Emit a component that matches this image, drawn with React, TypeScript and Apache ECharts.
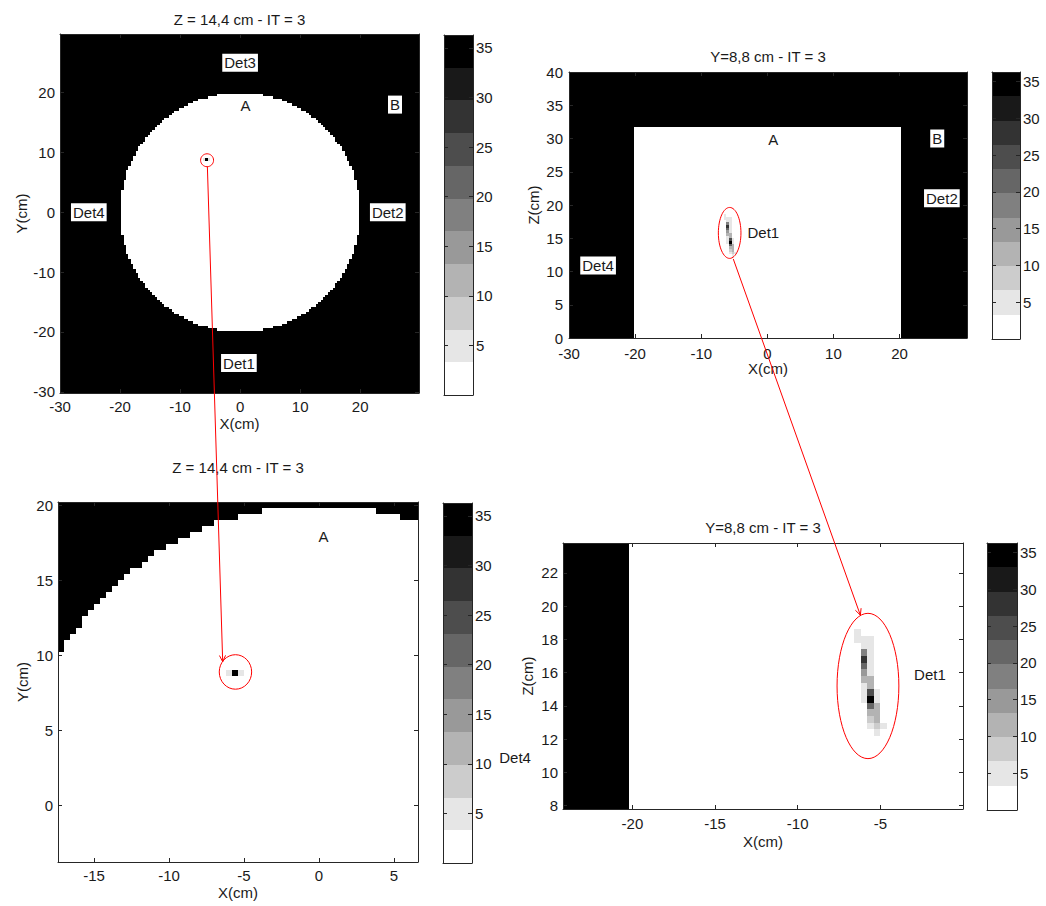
import React, { useEffect, useRef } from "react";
import * as echarts from "echarts";

// ---- Reconstruction parameters -------------------------------------------
const VOXEL = 0.4; // cm
const C_MIN = 0;
const C_MAX = 36.3;
const N_LEVELS = 11;
const colorbarTicks = [5, 10, 15, 20, 25, 30, 35];

const VALUE_A = 0; // phantom interior (A)
const VALUE_B = 36.3; // surrounding medium (B)

// Z = 14,4 cm slice: half-width of the phantom section, in voxels from the
// central column, for row |k| (y = k * 0.4 cm)
const diskHalfWidth = [
  49, 49, 49, 49, 49, 49, 49, 49, 49, 49,
  48, 48, 48, 48, 47, 47, 47, 47, 46, 46,
  45, 45, 44, 44, 43, 43, 42, 42, 41, 40,
  39, 39, 38, 37, 36, 35, 34, 33, 32, 31,
  29, 28, 27, 25, 23, 21, 19, 17, 13, 9,
];

// Hot-spot voxels in the Z = 14,4 cm slice: [x, y, value]
const hotspotXY = [
  [-6.0, 8.8, 5],
  [-5.6, 8.8, 36.3],
  [-5.2, 8.8, 5],
];

// Y = 8,8 cm slice: phantom section [xMin, xMax, zMin, zMax]
const phantomXZ = [-20.2, 20.2, 0, 31.8];

// Hot-spot voxels in the Y = 8,8 cm slice: [x, z, value]
const hotspotXZ = [
  [-6.4, 18.4, 5],
  [-6.4, 18.0, 5], [-6.0, 18.0, 5], [-5.6, 18.0, 5],
  [-6.0, 17.6, 5], [-5.6, 17.6, 5],
  [-6.0, 17.2, 18], [-5.6, 17.2, 5],
  [-6.0, 16.8, 28], [-5.6, 16.8, 5],
  [-6.0, 16.4, 22], [-5.6, 16.4, 5],
  [-6.0, 16.0, 15], [-5.6, 16.0, 5],
  [-6.0, 15.6, 12], [-5.6, 15.6, 12],
  [-6.0, 15.2, 5], [-5.6, 15.2, 12],
  [-6.0, 14.8, 5], [-5.6, 14.8, 25], [-5.2, 14.8, 5],
  [-6.0, 14.4, 5], [-5.6, 14.4, 36.3], [-5.2, 14.4, 5],
  [-5.6, 14.0, 22], [-5.2, 14.0, 12],
  [-5.6, 13.6, 12], [-5.2, 13.6, 12],
  [-5.6, 13.2, 8], [-5.2, 13.2, 12],
  [-5.6, 12.8, 5], [-5.2, 12.8, 8], [-4.8, 12.8, 5],
  [-5.2, 12.4, 5],
];

// Fields of view (cm)
const fovXY_X = [-30, 29.8];
const fovXY_Y = [-30.2, 29.8];
const fovXZ_X = [-30, 30.2];
const fovXZ_Z = [0, 40];
const zoomXY_X = [-17.4, 6.6];
const zoomXY_Y = [-3.8, 20.2];
const zoomXZ_X = [-24.2, 0];
const zoomXZ_Z = [7.8, 23.8];

// Tick labels
const ticksXY = [-30, -20, -10, 0, 10, 20];
const ticksXZ_X = [-30, -20, -10, 0, 10, 20];
const ticksXZ_Z = [0, 5, 10, 15, 20, 25, 30, 35, 40];
const ticksZoomXY_X = [-15, -10, -5, 0, 5];
const ticksZoomXY_Y = [0, 5, 10, 15, 20];
const ticksZoomXZ_X = [-20, -15, -10, -5];
const ticksZoomXZ_Z = [8, 10, 12, 14, 16, 18, 20, 22];

const titleXY = "Z = 14,4 cm - IT = 3";
const titleXZ = "Y=8,8 cm - IT = 3";

// Detector / region tags: [panel, text, x, y] in the panel's data units (cm)
const tags: [number, string, number, number][] = [
  [0, "Det3", 0, 25],
  [0, "A", 0.9, 17.9],
  [0, "B", 25.8, 18.0],
  [0, "Det4", -25.2, 0],
  [0, "Det2", 24.6, 0],
  [0, "Det1", -0.2, -25.2],
  [1, "A", 0.9, 29.9],
  [1, "B", 25.7, 30.0],
  [1, "Det2", 26.4, 21.0],
  [1, "Det1", -0.6, 15.9],
  [1, "Det4", -25.6, 10.9],
  [2, "A", 0.3, 17.9],
  [3, "Det1", -2.0, 15.9],
  [3, "Det4", -27.1, 10.9],
];

// Red highlight ellipses: [panel, cx, cy, rx, ry] in cm
const highlights: [number, number, number, number, number][] = [
  [0, -5.5, 8.7, 1.08, 1.08],
  [2, -5.57, 8.87, 1.08, 1.15],
  [1, -5.7, 15.8, 1.71, 3.83],
  [3, -5.75, 15.2, 1.87, 4.37],
];

// Red arrows: [fromPanel, x, y, toPanel, x, y] in cm
const arrows: [number, number, number, number, number, number][] = [
  [0, -5.45, 7.62, 2, -6.42, 9.55],
  [1, -5.15, 11.88, 3, -6.21, 19.46],
];

// ---- Styling / layout -----------------------------------------------------
const TEXT = "#1a1a1a";
const AXIS = "#262626";
const RED = "#ff0000";
const FONT = "'Liberation Sans', Arial, Helvetica, sans-serif";
const FS = 15;

type Rect = { left: number; top: number; width: number; height: number };

const panelLayout: {
  grid: Rect;
  cb: Rect;
  xGap: number;
  yGap: number;
  xMargin: number;
  yMargin: number;
  titleDy: number;
}[] = [
  { grid: { left: 60, top: 34, width: 359, height: 359 }, cb: { left: 444, top: 35, width: 29, height: 360 }, xGap: 23, yGap: 31, xMargin: 6, yMargin: 5, titleDy: 15 },
  { grid: { left: 569, top: 72, width: 398, height: 266 }, cb: { left: 992, top: 72, width: 28, height: 267 }, xGap: 23, yGap: 29, xMargin: 8, yMargin: 6, titleDy: 16 },
  { grid: { left: 58, top: 502, width: 360, height: 360 }, cb: { left: 443, top: 503, width: 29, height: 360 }, xGap: 23, yGap: 29, xMargin: 6, yMargin: 5, titleDy: 35 },
  { grid: { left: 563, top: 543, width: 400, height: 266 }, cb: { left: 987, top: 543, width: 30, height: 267 }, xGap: 25, yGap: 29, xMargin: 7, yMargin: 5, titleDy: 16 },
];

// ---- Helpers --------------------------------------------------------------
function grayOf(v: number) {
  let lvl = Math.floor(((v - C_MIN) / (C_MAX - C_MIN)) * N_LEVELS);
  lvl = Math.max(0, Math.min(N_LEVELS - 1, lvl));
  const g = Math.round(255 * (1 - lvl / (N_LEVELS - 1)));
  return `rgb(${g},${g},${g})`;
}

function voxel(x: number, y: number, v: number) {
  const h = VOXEL / 2;
  return [x - h, x + h, y - h, y + h, v];
}

function buildXY() {
  const out: number[][] = [[fovXY_X[0], fovXY_X[1], fovXY_Y[0], fovXY_Y[1], VALUE_B]];
  const n = diskHalfWidth.length;
  for (let k = -(n - 1); k <= n - 1; k++) {
    const m = diskHalfWidth[Math.abs(k)];
    out.push([-(m + 0.5) * VOXEL, (m + 0.5) * VOXEL, (k - 0.5) * VOXEL, (k + 0.5) * VOXEL, VALUE_A]);
  }
  hotspotXY.forEach(([x, y, v]) => out.push(voxel(x, y, v)));
  return out;
}

function buildXZ() {
  const out: number[][] = [[fovXZ_X[0], fovXZ_X[1], fovXZ_Z[0], fovXZ_Z[1], VALUE_B]];
  out.push([phantomXZ[0], phantomXZ[1], phantomXZ[2], phantomXZ[3], VALUE_A]);
  hotspotXZ.forEach(([x, z, v]) => out.push(voxel(x, z, v)));
  return out;
}

function buildColorbar() {
  const step = (C_MAX - C_MIN) / N_LEVELS;
  const out: number[][] = [];
  for (let i = 0; i < N_LEVELS; i++) {
    const lo = C_MIN + i * step;
    out.push([0, 1, lo, lo + step, lo + step / 2]);
  }
  return out;
}

function renderCell(params: any, api: any) {
  const a = api.coord([api.value(0), api.value(2)]);
  const b = api.coord([api.value(1), api.value(3)]);
  const x0 = Math.round(Math.min(a[0], b[0]));
  const x1 = Math.round(Math.max(a[0], b[0]));
  const y0 = Math.round(Math.min(a[1], b[1]));
  const y1 = Math.round(Math.max(a[1], b[1]));
  const cs = params.coordSys;
  const shape = echarts.graphic.clipRectByRect(
    { x: x0, y: y0, width: x1 - x0, height: y1 - y0 },
    { x: cs.x, y: cs.y, width: cs.width, height: cs.height }
  );
  if (!shape || shape.width <= 0 || shape.height <= 0) return null;
  return { type: "rect", shape, style: { fill: grayOf(api.value(4)) } };
}

const axisLine = { show: true, onZero: false, lineStyle: { color: AXIS, width: 1 } };
const labelStyle = { color: TEXT, fontSize: FS, fontFamily: FONT, lineHeight: 14 };

function frame(
  gi: number,
  xr: number[],
  yr: number[],
  xt: number[],
  yt: number[],
  opts: { xName?: string; yName?: string; xGap?: number; yGap?: number; xMargin?: number; yMargin?: number; xLabels: boolean; yLabelsRight: boolean }
) {
  const base = { type: "value", gridIndex: gi, z: 10, splitLine: { show: false }, axisLine };
  const xTick = { show: xt.length > 0, inside: true, length: 4, customValues: xt, lineStyle: { color: AXIS } };
  const yTick = { show: yt.length > 0, inside: true, length: 4, customValues: yt, lineStyle: { color: AXIS } };
  const xAxes = [
    {
      ...base, position: "bottom", min: xr[0], max: xr[1], axisTick: xTick,
      axisLabel: { show: opts.xLabels, customValues: xt, margin: opts.xMargin ?? 5, ...labelStyle },
      name: opts.xName, nameLocation: "middle", nameGap: opts.xGap, nameTextStyle: labelStyle,
    },
    { ...base, position: "top", min: xr[0], max: xr[1], axisTick: xTick, axisLabel: { show: false } },
  ];
  const yAxes = [
    {
      ...base, position: "left", min: yr[0], max: yr[1], axisTick: yTick,
      axisLabel: { show: !opts.yLabelsRight, customValues: yt, margin: opts.yMargin ?? 5, ...labelStyle },
      name: opts.yName, nameLocation: "middle", nameGap: opts.yGap, nameTextStyle: labelStyle,
    },
    {
      ...base, position: "right", min: yr[0], max: yr[1], axisTick: yTick,
      axisLabel: { show: opts.yLabelsRight, customValues: yt, margin: 3, ...labelStyle },
    },
  ];
  return { xAxes, yAxes };
}

function buildOption() {
  const xy = buildXY();
  const xz = buildXZ();
  const cb = buildColorbar();
  const ranges = [
    { x: fovXY_X, y: fovXY_Y, xt: ticksXY, yt: ticksXY, yName: "Y(cm)", data: xy },
    { x: fovXZ_X, y: fovXZ_Z, xt: ticksXZ_X, yt: ticksXZ_Z, yName: "Z(cm)", data: xz },
    { x: zoomXY_X, y: zoomXY_Y, xt: ticksZoomXY_X, yt: ticksZoomXY_Y, yName: "Y(cm)", data: xy },
    { x: zoomXZ_X, y: zoomXZ_Z, xt: ticksZoomXZ_X, yt: ticksZoomXZ_Z, yName: "Z(cm)", data: xz },
  ];
  const grids: any[] = [];
  const xAxis: any[] = [];
  const yAxis: any[] = [];
  const series: any[] = [];

  ranges.forEach((r, i) => {
    const L = panelLayout[i];
    grids.push({ ...L.grid, show: false });
    const f = frame(i, r.x, r.y, r.xt, r.yt, {
      xName: "X(cm)", yName: r.yName, xGap: L.xGap, yGap: L.yGap, xMargin: L.xMargin, yMargin: L.yMargin,
      xLabels: true, yLabelsRight: false,
    });
    xAxis.push(...f.xAxes);
    yAxis.push(...f.yAxes);
  });
  ranges.forEach((_, i) => {
    const L = panelLayout[i];
    const gi = 4 + i;
    grids.push({ ...L.cb, show: false });
    const f = frame(gi, [0, 1], [C_MIN, C_MAX], [], colorbarTicks, { xLabels: false, yLabelsRight: true });
    xAxis.push(...f.xAxes);
    yAxis.push(...f.yAxes);
  });

  ranges.forEach((r, i) => {
    series.push({
      type: "custom", xAxisIndex: 2 * i, yAxisIndex: 2 * i, renderItem: renderCell,
      data: r.data, encode: { x: [0, 1], y: [2, 3] }, silent: true, z: 2,
    });
  });
  ranges.forEach((_, i) => {
    const gi = 4 + i;
    series.push({
      type: "custom", xAxisIndex: 2 * gi, yAxisIndex: 2 * gi, renderItem: renderCell,
      data: cb, encode: { x: [0, 1], y: [2, 3] }, silent: true, z: 2,
    });
  });

  return {
    animation: false,
    backgroundColor: "#ffffff",
    grid: grids,
    xAxis,
    yAxis,
    series,
  };
}

function buildGraphic(chart: echarts.ECharts) {
  const toPx = (si: number, p: number[]) => chart.convertToPixel({ seriesIndex: si }, p) as unknown as number[];
  const els: any[] = [];
  const titles = [titleXY, titleXZ, titleXY, titleXZ];

  panelLayout.forEach((L, i) => {
    els.push({
      type: "text", x: L.grid.left + L.grid.width / 2, y: L.grid.top - L.titleDy, z: 50,
      style: { text: titles[i], fill: TEXT, fontSize: FS, fontFamily: FONT, align: "center", verticalAlign: "middle" },
    });
  });

  tags.forEach(([p, text, x, y]) => {
    const [px, py] = toPx(p, [x, y]);
    els.push({
      type: "text", x: px, y: py, z: 50,
      style: {
        text, fill: TEXT, fontSize: FS, fontFamily: FONT, align: "center", verticalAlign: "middle",
        backgroundColor: "#ffffff", padding: [2, 2, 1, 2],
      },
    });
  });

  highlights.forEach(([p, cx, cy, rx, ry]) => {
    const c = toPx(p, [cx, cy]);
    const ex = toPx(p, [cx + rx, cy]);
    const ey = toPx(p, [cx, cy + ry]);
    els.push({
      type: "ellipse", z: 60,
      shape: { cx: c[0], cy: c[1], rx: Math.abs(ex[0] - c[0]), ry: Math.abs(ey[1] - c[1]) },
      style: { fill: "none", stroke: RED, lineWidth: 1 },
    });
  });

  arrows.forEach(([p0, x0, y0, p1, x1, y1]) => {
    const a = toPx(p0, [x0, y0]);
    const b = toPx(p1, [x1, y1]);
    els.push({
      type: "line", z: 60, shape: { x1: a[0], y1: a[1], x2: b[0], y2: b[1] },
      style: { stroke: RED, lineWidth: 1 },
    });
    const dx = b[0] - a[0];
    const dy = b[1] - a[1];
    const len = Math.hypot(dx, dy);
    const ux = dx / len;
    const uy = dy / len;
    const head = 7;
    const ang = 0.45;
    const barb = (t: number) => [
      b[0] - head * (ux * Math.cos(t) - uy * Math.sin(t)),
      b[1] - head * (ux * Math.sin(t) + uy * Math.cos(t)),
    ];
    els.push({
      type: "polyline", z: 60, shape: { points: [barb(ang), b, barb(-ang)] },
      style: { stroke: RED, fill: "none", lineWidth: 1 },
    });
  });

  return els;
}

export default function App() {
  const ref = useRef<HTMLDivElement>(null);
  useEffect(() => {
    const el = ref.current;
    if (!el) return;
    const chart = echarts.init(el, undefined, { renderer: "svg" });
    chart.setOption(buildOption() as any);
    chart.setOption({ graphic: buildGraphic(chart) } as any);
    return () => chart.dispose();
  }, []);
  return (
    <div
      ref={ref}
      style={{ position: "absolute", left: 0, top: 0, width: 1046, height: 906, background: "#ffffff" }}
    />
  );
}
